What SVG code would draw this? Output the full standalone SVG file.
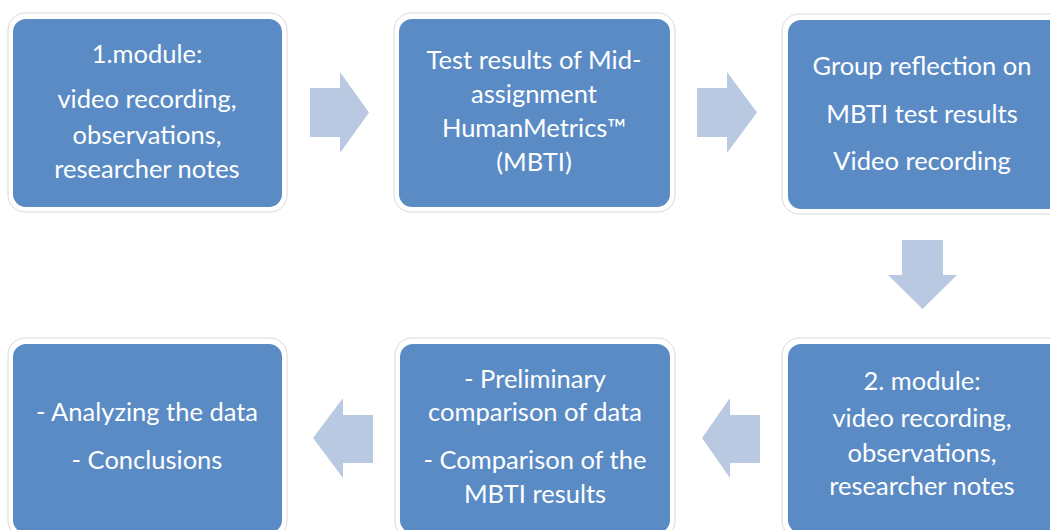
<svg xmlns="http://www.w3.org/2000/svg" width="1050" height="530" viewBox="0 0 1050 530">
  <style>
    .halo { fill: #ffffff; stroke: #d9d9d9; stroke-width: 1; }
    .box { fill: #5a8bc5; stroke: #ffffff; stroke-width: 2; }
    .label { font-family: Lato, "Open Sans", sans-serif; font-size: 25.5px; fill: #ffffff; text-anchor: middle; }
    .arrow { fill: #b9c9e1; }
  </style>
  <rect width="1050" height="530" fill="#ffffff"/>

  <g id="step1">
    <rect class="halo" x="8" y="13" width="279" height="199" rx="17"/>
    <rect class="box" x="12" y="18" width="271" height="190" rx="14"/>
    <text class="label" x="147" y="63">1.module:</text>
    <text class="label" x="147" y="108">video recording,</text>
    <text class="label" x="147" y="144">observations,</text>
    <text class="label" x="147" y="178">researcher notes</text>
  </g>

  <g id="step2">
    <rect class="halo" x="394" y="13" width="281" height="199" rx="17"/>
    <rect class="box" x="398" y="18" width="273" height="190" rx="14"/>
    <text class="label" x="534" y="69">Test results of Mid-</text>
    <text class="label" x="534" y="103">assignment</text>
    <text class="label" x="534" y="137">HumanMetrics™</text>
    <text class="label" x="534" y="171">(MBTI)</text>
  </g>

  <g id="step3">
    <rect class="halo" x="782" y="14" width="290" height="200" rx="17"/>
    <rect class="box" x="787" y="19" width="280" height="191" rx="14"/>
    <text class="label" x="922" y="75">Group reflection on</text>
    <text class="label" x="922" y="123">MBTI test results</text>
    <text class="label" x="922" y="170">Video recording</text>
  </g>

  <g id="step4">
    <rect class="halo" x="782" y="338" width="290" height="200" rx="17"/>
    <rect class="box" x="787" y="343" width="280" height="191" rx="14"/>
    <text class="label" x="922" y="390">2. module:</text>
    <text class="label" x="922" y="427">video recording,</text>
    <text class="label" x="922" y="462">observations,</text>
    <text class="label" x="922" y="495">researcher notes</text>
  </g>

  <g id="step5">
    <rect class="halo" x="395" y="338" width="280" height="200" rx="17"/>
    <rect class="box" x="399" y="343" width="272" height="191" rx="14"/>
    <text class="label" x="535" y="388">- Preliminary</text>
    <text class="label" x="535" y="421">comparison of data</text>
    <text class="label" x="535" y="469">- Comparison of the</text>
    <text class="label" x="535" y="503">MBTI results</text>
  </g>

  <g id="step6">
    <rect class="halo" x="8" y="338" width="279" height="200" rx="17"/>
    <rect class="box" x="12" y="343" width="271" height="191" rx="14"/>
    <text class="label" x="147" y="421">- Analyzing the data</text>
    <text class="label" x="147" y="469">- Conclusions</text>
  </g>

  <g id="connectors">
    <polygon class="arrow" points="310,88 340,88 340,72 369,112.5 340,153 340,137 310,137"/>
    <polygon class="arrow" points="697,88 727,88 727,72 757,112.5 727,153 727,137 697,137"/>
    <polygon class="arrow" points="902,240 943,240 943,275 957,275 922.5,309 888,275 902,275"/>
    <polygon class="arrow" points="760,415 730,415 730,398 702,438 730,478 730,463 760,463"/>
    <polygon class="arrow" points="373,415 343,415 343,398 313,438 343,478 343,463 373,463"/>
  </g>
</svg>
